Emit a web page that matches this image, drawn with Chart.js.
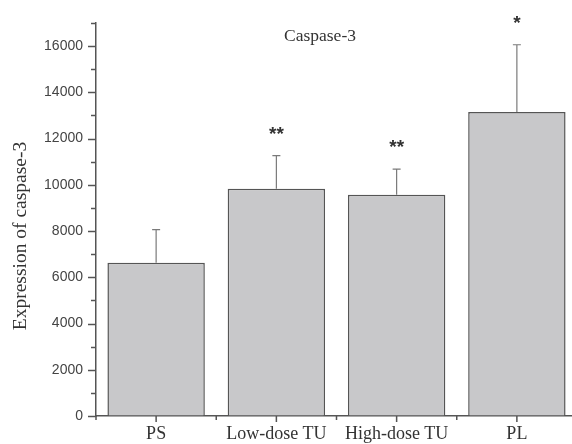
<!DOCTYPE html>
<html>
<head>
<meta charset="utf-8">
<script src="https://cdn.jsdelivr.net/npm/chart.js@4"></script>
<style>
  html, body { margin: 0; padding: 0; background: #fff; overflow: hidden; }
</style>
</head>
<body>
<canvas id="myChart" width="580" height="444"></canvas>
<script>
// values
var categories = ['PS', 'Low-dose TU', 'High-dose TU', 'PL'];
var means = [6630, 9830, 9570, 13150];
var errors = [1430, 1430, 1110, 2910];
var marks = ['', '**', '**', '*'];
var yMax = 17000;
var yStep = 2000;   // labelled ticks
var yMinor = 1000;  // minor ticks

var serif = '"Liberation Serif", "Times New Roman", serif';
var sans = '"Liberation Sans", Arial, sans-serif';

var extras = {
  id: 'extras',
  afterDatasetsDraw: function (chart) {
    var ctx = chart.ctx;
    var x = chart.scales.x, y = chart.scales.y;
    var meta = chart.getDatasetMeta(0);
    ctx.save();
    // error bars + significance marks
    meta.data.forEach(function (bar, i) {
      var top = y.getPixelForValue(means[i] + errors[i]);
      ctx.strokeStyle = '#7a7a7a';
      ctx.lineWidth = 1.2;
      ctx.beginPath();
      ctx.moveTo(bar.x, bar.y);
      ctx.lineTo(bar.x, top);
      ctx.moveTo(bar.x - 4, top);
      ctx.lineTo(bar.x + 4, top);
      ctx.stroke();
      if (marks[i]) {
        ctx.fillStyle = '#333';
        ctx.font = 'bold 19px ' + sans;
        ctx.textAlign = 'center';
        ctx.textBaseline = 'alphabetic';
        ctx.fillText(marks[i], bar.x, top - 16);
      }
    });
    // y ticks (major + minor)
    ctx.strokeStyle = '#555';
    ctx.lineWidth = 1.5;
    var left = chart.chartArea.left;
    for (var v = 0; v <= yMax; v += yMinor) {
      var py = Math.round(y.getPixelForValue(v)) + 0.5;
      var len = (v % yStep === 0) ? 8 : 5;
      ctx.beginPath();
      ctx.moveTo(left, py);
      ctx.lineTo(left - len, py);
      ctx.stroke();
    }
    // x ticks
    var bottom = chart.chartArea.bottom;
    var cw = (x.right - x.left) / categories.length;
    for (var k = 0; k < categories.length; k++) {
      var cx = x.getPixelForValue(k);
      ctx.beginPath();
      ctx.moveTo(cx, bottom);
      ctx.lineTo(cx, bottom + 6);
      ctx.moveTo(cx - cw / 2, bottom);
      ctx.lineTo(cx - cw / 2, bottom + 4);
      ctx.stroke();
    }
    // title inside plot
    ctx.fillStyle = '#333';
    ctx.font = '17.5px ' + serif;
    ctx.textAlign = 'center';
    ctx.textBaseline = 'middle';
    ctx.fillText('Caspase-3', 320, 36);
    // y axis title
    ctx.translate(21, 236);
    ctx.rotate(-Math.PI / 2);
    ctx.font = '19.5px ' + serif;
    ctx.fillText('Expression of caspase-3', 0, 0);
    ctx.restore();
  }
};

var options = {
  type: 'bar',
  data: {
    labels: categories,
    datasets: [
      {
        label: 'Caspase-3',
        data: means,
        backgroundColor: '#c8c8ca',
        borderColor: '#555',
        borderWidth: 1.5,
        borderSkipped: 'bottom',
        barPercentage: 0.81,
        categoryPercentage: 1
      }
    ]
  },
  options: {
    responsive: false,
    animation: false,
    layout: { padding: { top: 23, right: 3, left: 0, bottom: 0 } },
    plugins: {
      legend: { display: false },
      tooltip: { enabled: false }
    },
    scales: {
      x: {
        afterFit: function (s) { s.height = 28; },
        grid: { display: false, drawTicks: false },
        border: { color: '#555', width: 1.5 },
        ticks: {
          color: '#333',
          padding: 7,
          maxRotation: 0,
          autoSkip: false,
          font: { family: serif, size: 18 }
        }
      },
      y: {
        min: 0,
        max: yMax,
        afterFit: function (s) { s.width = 96; },
        grid: { drawOnChartArea: false, drawTicks: false },
        border: { color: '#555', width: 1.5 },
        ticks: {
          stepSize: yMinor,
          padding: 13,
          autoSkip: false,
          color: '#444',
          font: { family: sans, size: 14 },
          callback: function (v) { return v % yStep === 0 ? String(v) : ''; }
        }
      }
    }
  },
  plugins: [extras]
};

var ctx = document.getElementById('myChart').getContext('2d');
new Chart(ctx, options);
</script>
</body>
</html>
